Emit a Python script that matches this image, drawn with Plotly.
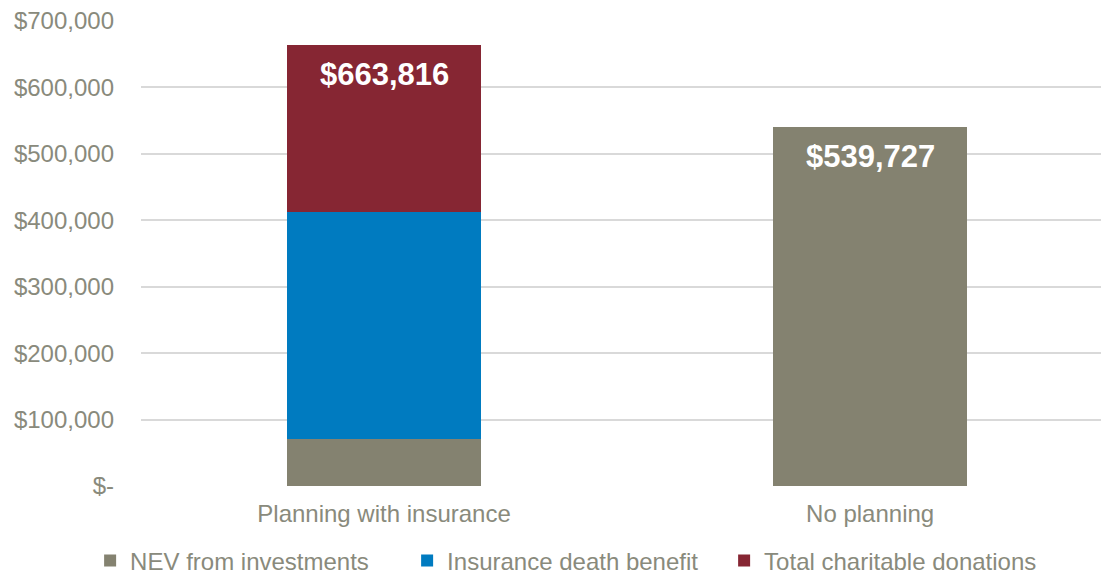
import plotly.graph_objects as go

categories = ["Planning with insurance", "No planning"]
nev = [71000, 539727]
insurance = [342000, 0]
charitable = [250816, 0]
totals = [663816, 539727]
total_labels = ["$663,816", "$539,727"]
series_names = ["NEV from investments", "Insurance death benefit", "Total charitable donations"]
tick_vals = [0, 100000, 200000, 300000, 400000, 500000, 600000, 700000]
tick_text = ["$-", "$100,000", "$200,000", "$300,000", "$400,000", "$500,000", "$600,000", "$700,000"]

colors = ["#848270", "#007BC0", "#862633"]
font_color = "#898A7C"
FONT = "Liberation Sans, Arial, sans-serif"

fig = go.Figure()
for name, vals, col in zip(series_names, [nev, insurance, charitable], colors):
    fig.add_trace(go.Bar(x=categories, y=vals, name=name, marker=dict(color=col, line=dict(width=0)),
                         width=0.4, hoverinfo="skip"))

for cat, tot, lab in zip(categories, totals, total_labels):
    fig.add_annotation(x=cat, y=tot, text=f"<b>{lab}</b>", showarrow=False, yanchor="top", yshift=-10,
                       font=dict(family=FONT, size=31, color="white"))

fig.update_layout(
    barmode="stack",
    width=1101, height=575,
    margin=dict(l=141, r=0, t=21, b=89, autoexpand=False),
    paper_bgcolor="white", plot_bgcolor="white",
    font=dict(family=FONT, size=24, color=font_color),
    showlegend=True,
    legend=dict(orientation="h", x=-0.053, xanchor="left", y=-0.161, yanchor="middle",
                bgcolor="rgba(0,0,0,0)",
                font=dict(family=FONT, size=24, color=font_color), traceorder="normal",
                itemclick=False, itemwidth=30, entrywidth=272, entrywidthmode="pixels"),
    xaxis=dict(range=[-0.5, 1.475], showgrid=False, showline=False, ticks="", ticklabelstandoff=11),
    yaxis=dict(range=[0, 700000], tickvals=tick_vals, ticktext=tick_text, showgrid=True,
               gridcolor="#D9D9D9", gridwidth=2, zeroline=False, showline=False, ticks="",
               ticklabelstandoff=26),
)

fig.write_html("out.html")
